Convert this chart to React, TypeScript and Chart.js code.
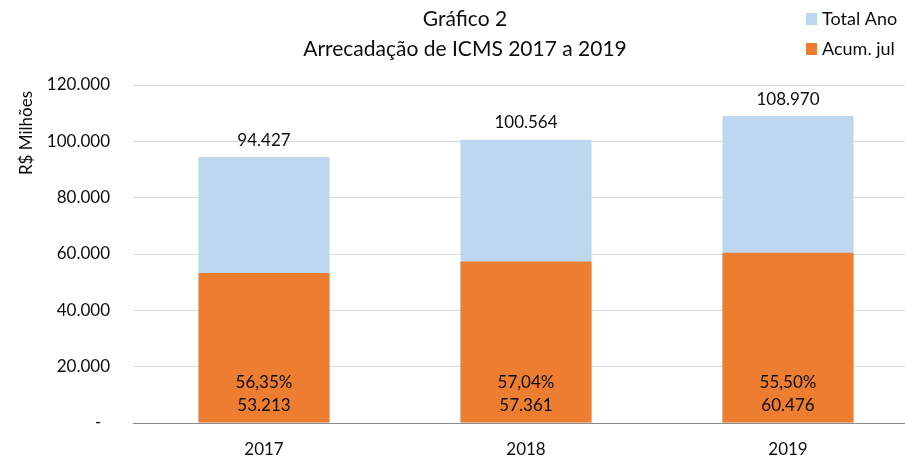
import React, { useEffect, useRef } from 'react';
import { Chart, registerables } from 'chart.js';

Chart.register(...registerables);

const categories = ['2017', '2018', '2019'];
const totalAno = [94427, 100564, 108970];
const acumJul = [53213, 57361, 60476];
const yTicks = [0, 20000, 40000, 60000, 80000, 100000, 120000];
const titleLines = ['Gráfico 2', 'Arrecadação de ICMS 2017 a 2019'];
const yTitle = 'R$ Milhões';
const seriesNames = ['Total Ano', 'Acum. jul'];

const FONT = 'Lato, "Open Sans", sans-serif';
const TEXT = '#0d0d0d';
const BLUE = '#BDD7EE';
const ORANGE = '#ED7D31';
const GRID = '#D9D9D9';
const AXIS = '#8C8C8C';

const fmt = (v: number) => Math.round(v).toString().replace(/\B(?=(\d{3})+(?!\d))/g, '.');
const pct = (a: number, b: number) => ((a / b) * 100).toFixed(2).replace('.', ',') + '%';

const overlay = {
  id: 'overlay',
  afterDatasetsDraw(chart: any) {
    const ctx = chart.ctx as CanvasRenderingContext2D;
    ctx.save();
    ctx.fillStyle = TEXT;
    ctx.textAlign = 'center';
    ctx.textBaseline = 'middle';
    ctx.font = `17px ${FONT}`;
    const acumMeta = chart.getDatasetMeta(0);
    const totMeta = chart.getDatasetMeta(1);
    totMeta.data.forEach((bar: any, i: number) => {
      ctx.fillText(fmt(totalAno[i]), bar.x, bar.y - 17);
    });
    acumMeta.data.forEach((bar: any, i: number) => {
      ctx.fillText(pct(acumJul[i], totalAno[i]), bar.x, bar.base - 40);
      ctx.fillText(fmt(acumJul[i]), bar.x, bar.base - 17);
    });

    // title
    ctx.font = `21px ${FONT}`;
    ctx.fillText(titleLines[0], 465, 19.5);
    ctx.fillText(titleLines[1], 465, 49.5);

    // legend
    ctx.font = `18px ${FONT}`;
    ctx.textAlign = 'left';
    const legendColors = [BLUE, ORANGE];
    const legendY = [19, 49];
    seriesNames.forEach((name, i) => {
      ctx.fillStyle = legendColors[i];
      ctx.fillRect(806, legendY[i] - 6, 11, 12);
      ctx.fillStyle = TEXT;
      ctx.fillText(name, 822, legendY[i]);
    });

    // y axis title
    ctx.translate(27, 133);
    ctx.rotate(-Math.PI / 2);
    ctx.textAlign = 'center';
    ctx.font = `17px ${FONT}`;
    ctx.fillText(yTitle, 0, 0);
    ctx.restore();
  },
};

export default function App() {
  const canvasRef = useRef<HTMLCanvasElement | null>(null);

  useEffect(() => {
    if (!canvasRef.current) return;
    const chart = new Chart(canvasRef.current, {
      type: 'bar',
      data: {
        labels: categories,
        datasets: [
          {
            label: seriesNames[1],
            data: acumJul,
            backgroundColor: ORANGE,
            grouped: false,
            barPercentage: 0.5,
            categoryPercentage: 1,
          } as any,
          {
            label: seriesNames[0],
            data: totalAno,
            backgroundColor: BLUE,
            grouped: false,
            barPercentage: 0.5,
            categoryPercentage: 1,
          } as any,
        ],
      },
      options: {
        responsive: false,
        animation: false,
        devicePixelRatio: 1,
        layout: { padding: { top: 85, right: 11, left: 0, bottom: 0 } },
        plugins: {
          legend: { display: false },
          title: { display: false },
          tooltip: { enabled: false },
        },
        scales: {
          x: {
            grid: { display: false, drawTicks: false },
            border: { display: true, color: AXIS, width: 1 },
            ticks: { color: TEXT, font: { family: FONT, size: 17 }, padding: 16, maxRotation: 0 },
            afterFit: (scale: any) => {
              scale.height = 34;
            },
          },
          y: {
            min: 0,
            max: 120000,
            grid: {
              drawTicks: false,
              color: (c: any) => (c.tick && c.tick.value === 0 ? AXIS : GRID),
              lineWidth: 1,
            },
            border: { display: false },
            ticks: {
              color: TEXT,
              font: { family: FONT, size: 17 },
              padding: 23,
              callback: (v: any) => (Number(v) === 0 ? '-  ' : fmt(Number(v))),
            },
            afterBuildTicks: (scale: any) => {
              scale.ticks = yTicks.map((v) => ({ value: v }));
            },
            afterFit: (scale: any) => {
              scale.width = 133;
            },
          },
        },
      },
      plugins: [overlay],
    });
    return () => chart.destroy();
  }, []);

  return (
    <div style={{ position: 'fixed', left: 0, top: 0, width: 905, height: 457, overflow: 'hidden', background: '#fff' }}>
      <canvas ref={canvasRef} width={930} height={457} style={{ display: 'block', width: 930, height: 457 }} />
    </div>
  );
}
